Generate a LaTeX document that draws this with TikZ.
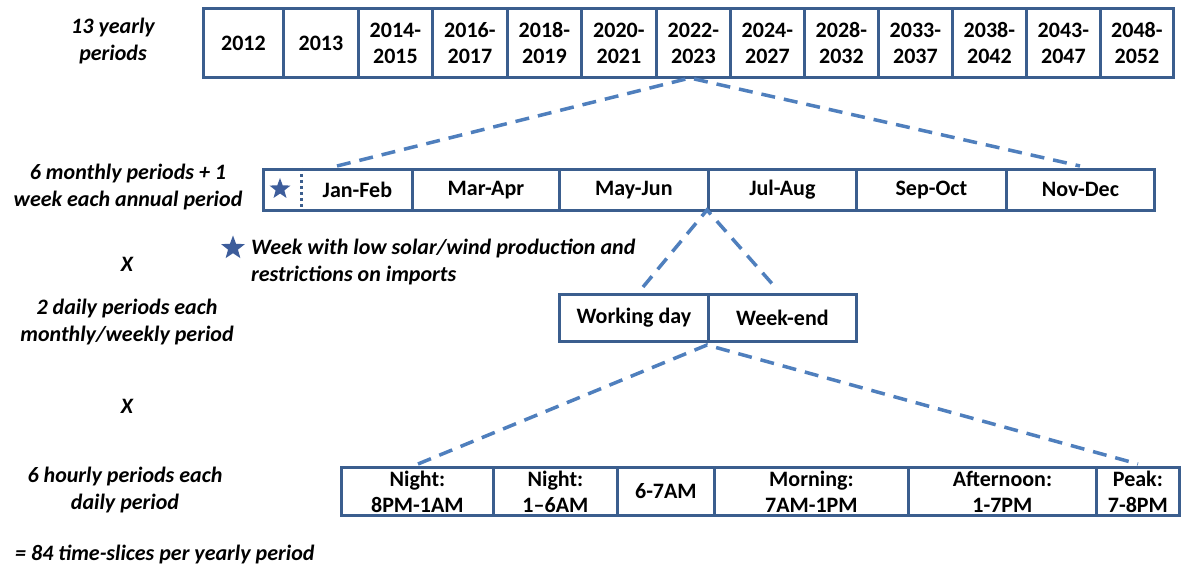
\documentclass[tikz,border=0pt]{standalone}
\usepackage{fontspec}
\setmainfont{Carlito}
\usetikzlibrary{shapes.geometric}
\definecolor{boxblue}{HTML}{3B5E8E}
\definecolor{dashblue}{HTML}{4F7FBD}
\definecolor{starblue}{HTML}{3D5D9B}
\begin{document}
\begin{tikzpicture}[x=1pt,y=-1pt,
  cell/.style={draw=boxblue, line width=2.8pt, fill=white, anchor=north west, inner sep=0pt,
    align=center, text=black, font=\fontsize{22}{26}\selectfont\bfseries},
  bare/.style={cell, draw=none, fill=none},
  lab/.style={align=center, inner sep=0pt, text=black, font=\fontsize{22}{27}\selectfont\bfseries\itshape},
  conn/.style={draw=dashblue, line width=3.5pt, dash pattern=on 14pt off 9pt},
  dotsep/.style={draw=boxblue, line width=3pt, dash pattern=on 3pt off 3pt},
  bigstar/.style={star, star points=5, star point ratio=2.4, fill=starblue, draw=none, inner sep=0pt}]
\useasboundingbox (0,0) rectangle (1184,569);
\fill[white] (0,0) rectangle (1184,569);

% ---- yearly periods ----
\node[cell, minimum width=80pt, minimum height=69pt] (y1) at (202,7) {2012};
\node[cell, minimum width=75pt, minimum height=69pt] (y2) at (282,7) {2013};
\node[cell, minimum width=74pt, minimum height=69pt] (y3) at (357,7) {2014-\\2015};
\node[cell, minimum width=75pt, minimum height=69pt] (y4) at (431,7) {2016-\\2017};
\node[cell, minimum width=74pt, minimum height=69pt] (y5) at (506,7) {2018-\\2019};
\node[cell, minimum width=75pt, minimum height=69pt] (y6) at (580,7) {2020-\\2021};
\node[cell, minimum width=74pt, minimum height=69pt] (y7) at (655,7) {2022-\\2023};
\node[cell, minimum width=74pt, minimum height=69pt] (y8) at (729,7) {2024-\\2027};
\node[cell, minimum width=74pt, minimum height=69pt] (y9) at (803,7) {2028-\\2032};
\node[cell, minimum width=74pt, minimum height=69pt] (y10) at (877,7) {2033-\\2037};
\node[cell, minimum width=74pt, minimum height=69pt] (y11) at (951,7) {2038-\\2042};
\node[cell, minimum width=74pt, minimum height=69pt] (y12) at (1025,7) {2043-\\2047};
\node[cell, minimum width=73pt, minimum height=69pt] (y13) at (1099,7) {2048-\\2052};

% ---- monthly periods ----
\node[cell, minimum width=149pt, minimum height=41pt] (m0) at (262,168) {};
\node[bare, minimum width=110pt, minimum height=41pt] (m1) at (301,168) {Jan-Feb};
\node[bigstar, minimum size=22pt] (s1) at (280,189) {};
\draw[dotsep] (m1.north west) -- (m1.south west);
\node[cell, minimum width=147pt, minimum height=41pt] (m2) at (411,168) {Mar-Apr};
\node[cell, minimum width=149pt, minimum height=41pt] (m3) at (558,168) {May-Jun};
\node[cell, minimum width=148pt, minimum height=41pt] (m4) at (707,168) {Jul-Aug};
\node[cell, minimum width=150pt, minimum height=41pt] (m5) at (855,168) {Sep-Oct};
\node[cell, minimum width=148pt, minimum height=41pt] (m6) at (1005,168) {Nov-Dec};

% ---- daily periods ----
\node[cell, minimum width=149pt, minimum height=47pt] (d1) at (558,293) {Working day};
\node[cell, minimum width=148pt, minimum height=47pt] (d2) at (707,293) {Week-end};

% ---- hourly periods ----
\node[cell, minimum width=152pt, minimum height=48pt] (h1) at (340,466) {Night:\\8PM-1AM};
\node[cell, minimum width=124pt, minimum height=48pt] (h2) at (492,466) {Night:\\1–6AM};
\node[cell, minimum width=97pt, minimum height=48pt] (h3) at (616,466) {6-7AM};
\node[cell, minimum width=194pt, minimum height=48pt] (h4) at (713,466) {Morning:\\7AM-1PM};
\node[cell, minimum width=188pt, minimum height=48pt] (h5) at (907,466) {Afternoon:\\1-7PM};
\node[cell, minimum width=83pt, minimum height=48pt] (h6) at (1095,466) {Peak:\\7-8PM};

% ---- dashed zoom connectors ----
\coordinate (c1l) at (337,166);
\coordinate (c1r) at (1080,166);
\coordinate (c2l) at (643,287);
\coordinate (c2r) at (775,287);
\coordinate (c3l) at (418,464);
\coordinate (c3r) at (1138,464);
\coordinate (a1) at (690,78);
\coordinate (a2) at (707,210);
\coordinate (a3) at (707,345);
\draw[conn] (c1l) -- (a1) -- (c1r);
\draw[conn] (c2l) -- (a2) -- (c2r);
\draw[conn] (c3l) -- (a3) -- (c3r);

% ---- left labels ----
\node[lab] (l1) at (113,41) {13 yearly\\periods};
\node[lab] (l2) at (128,187) {6 monthly periods + 1\\week each annual period};
\node[lab] (x1) at (127,264) {X};
\node[lab] (l3) at (127,322) {2 daily periods each\\monthly/weekly period};
\node[lab] (x2) at (127,406) {X};
\node[lab] (l4) at (125,490) {6 hourly periods each\\daily period};
\node[lab, anchor=west] (l5) at (15,555) {= 84 time-slices per yearly period};

% ---- star note ----
\node[bigstar, minimum size=25pt] (s2) at (233,248) {};
\node[lab, align=left, anchor=west] (note) at (251,262) {Week with low solar/wind production and\\restrictions on imports};
\end{tikzpicture}
\end{document}
